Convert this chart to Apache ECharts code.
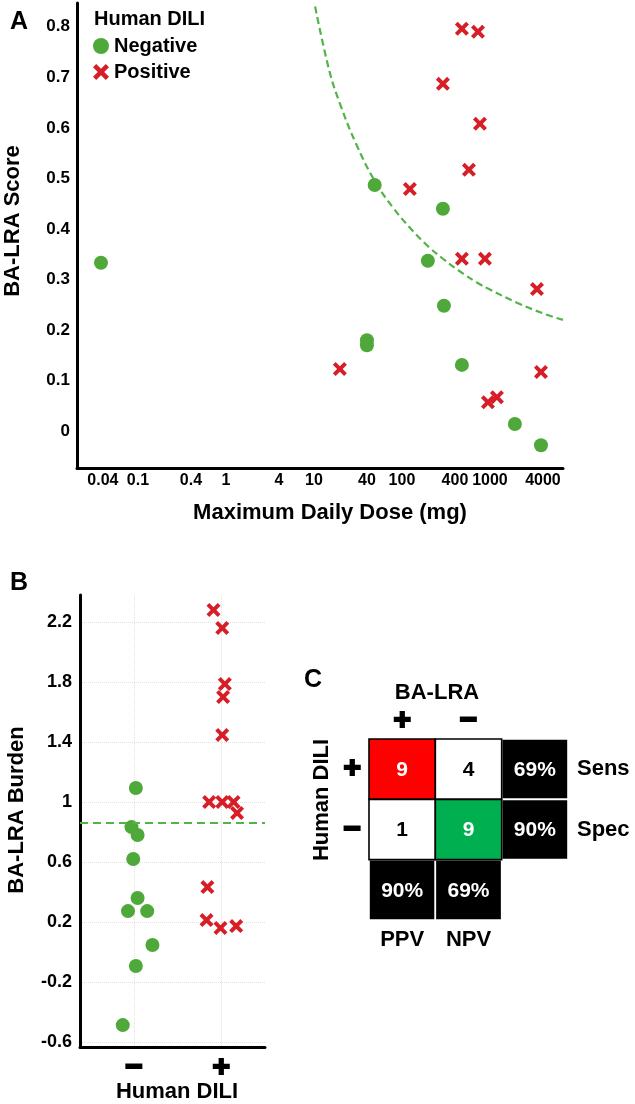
<!DOCTYPE html>
<html><head><meta charset="utf-8">
<script src="https://cdn.jsdelivr.net/npm/echarts@6/dist/echarts.min.js"></script>
<style>html,body{margin:0;padding:0;background:#fff}#c{width:635px;height:1104px}</style>
</head><body><div id="c"></div>
<script>
// ---------- Panel A data ----------
const aNegDose  = [0.038, 49, 292, 197, 300, 40, 40, 480, 1920, 3800];
const aNegScore = [0.333, 0.487, 0.44, 0.337, 0.248, 0.18, 0.17, 0.131, 0.014, -0.028];
const aPosDose  = [480, 731, 292, 770, 577, 123, 480, 877, 3420, 19.7, 3800, 949, 1200];
const aPosScore = [0.796, 0.79, 0.687, 0.608, 0.517, 0.479, 0.341, 0.341, 0.281, 0.123, 0.117, 0.057, 0.067];
const aCurveDose  = [10.3, 15, 20, 30, 49, 80, 133, 200, 292, 500, 711, 1000, 2030, 4000, 6760];
const aCurveScore = [0.84, 0.712, 0.645, 0.569, 0.495, 0.441, 0.396, 0.365, 0.341, 0.311, 0.294, 0.28, 0.254, 0.233, 0.22];
const aXTicks = [0.04, 0.1, 0.4, 1, 4, 10, 40, 100, 400, 1000, 4000];
const aYTicks = [0, 0.1, 0.2, 0.3, 0.4, 0.5, 0.6, 0.7, 0.8];
const aXTitle = 'Maximum Daily Dose (mg)';
const aYTitle = 'BA-LRA Score';

// ---------- Panel B data ----------
const bCategories = ['−', '+'];
const bNegPos   = [1.02, 0.97, 1.04, 0.99, 1.04, 0.93, 1.15, 1.21, 1.02, 0.87];
const bNegValue = [1.093, 0.833, 0.78, 0.62, 0.36, 0.273, 0.273, 0.047, -0.093, -0.487];
const bPosPos   = [1.91, 2.01, 2.04, 2.02, 2.01, 1.86, 2.01, 2.14, 2.18, 1.84, 1.83, 1.99, 2.17];
const bPosValue = [2.28, 2.16, 1.787, 1.7, 1.447, 1.0, 1.0, 1.0, 0.927, 0.433, 0.213, 0.16, 0.173];
const bThreshold = 0.86;
const bYTicks = [-0.6, -0.2, 0.2, 0.6, 1, 1.4, 1.8, 2.2];
const bXTitle = 'Human DILI';
const bYTitle = 'BA-LRA Burden';

// ---------- Panel C data ----------
const cColLabels = ['+', '−'];
const cRowLabels = ['+', '−'];
const cCounts = [[9, 4], [1, 9]];
const cRowStats = ['69%', '90%'];
const cRowStatNames = ['Sens', 'Spec'];
const cColStats = ['90%', '69%'];
const cColStatNames = ['PPV', 'NPV'];
const cColTitle = 'BA-LRA';
const cRowTitle = 'Human DILI';

const GREEN = '#4FA83A', RED = '#D71E26', DASH = '#52B447';
const FONT = '"Liberation Sans", Arial, sans-serif';
const XPATH = 'path://M2,0 L5,3 L8,0 L10,2 L7,5 L10,8 L8,10 L5,7 L2,10 L0,8 L3,5 L0,2 Z';

const zip = (a, b) => a.map((v, i) => [v, b[i]]);
const fmt = v => String(parseFloat(Number(v).toPrecision(4)));

// matrix cells (black ones first so the coloured ones' borders sit on top)
const cCells = [];
cRowStats.forEach((t, r) => cCells.push({v: [2, r], text: t, fill: '#000', color: '#fff', stroke: '#fff'}));
cColStats.forEach((t, c) => cCells.push({v: [c, 2], text: t, fill: '#000', color: '#fff', stroke: '#fff'}));
const cFill = [['#FF0000', '#FFFFFF'], ['#FFFFFF', '#00B050']];
const cText = [['#fff', '#000'], ['#000', '#fff']];
cCounts.forEach((row, r) => row.forEach((n, c) =>
  cCells.push({v: [c, r], text: String(n), fill: cFill[r][c], color: cText[r][c], stroke: '#000'})));

const boldTxt = (size, extra) => Object.assign({fontFamily: FONT, fontWeight: 'bold', fontSize: size, color: '#000'}, extra || {});
const signTxt = {fontFamily: FONT, fontWeight: 'bold', fontSize: 30, color: '#000', textBorderColor: '#000', textBorderWidth: 2};
const gText = (text, x, y, rot) => ({type: 'text', x: x, y: y, rotation: rot || 0,
  style: {text: text, font: 'bold 22px ' + FONT, fill: '#000', align: 'center', verticalAlign: 'middle'}});

const chart = echarts.init(document.getElementById('c'), null, {renderer: 'canvas'});
chart.setOption({
  animation: false,
  backgroundColor: '#fff',
  title: [
    {text: 'A', left: 5, top: 5, textStyle: boldTxt(25)},
    {text: 'B', left: 5, top: 566, textStyle: boldTxt(25)},
    {text: 'C', left: 299, top: 663, textStyle: boldTxt(25)},
    {text: 'Human DILI', left: 89, top: 4, textStyle: boldTxt(20)}
  ],
  legend: {
    orient: 'vertical', left: 88, top: 31, itemGap: 6, itemWidth: 16, itemHeight: 16,
    textStyle: boldTxt(20), selectedMode: false,
    data: [{name: 'Negative', icon: 'circle'}, {name: 'Positive', icon: XPATH}]
  },
  grid: [
    {left: 77, top: 3, width: 486, height: 465},
    {left: 80, top: 595, width: 185, height: 452},
    {left: 369, top: 739, width: 199, height: 181}
  ],
  xAxis: [
    {gridIndex: 0, type: 'log', logBase: 10, min: 0.0203, max: 6760,
     axisLine: {show: true, onZero: false, lineStyle: {color: '#000', width: 3}},
     axisTick: {show: false, customValues: aXTicks},
     axisLabel: {customValues: aXTicks, formatter: fmt, margin: 5, ...boldTxt(16)},
     splitLine: {show: false}, minorSplitLine: {show: false}},
    {gridIndex: 1, type: 'value', min: 0.38, max: 2.5,
     axisLine: {show: true, onZero: false, lineStyle: {color: '#000', width: 3}},
     axisTick: {show: false, customValues: [1, 2]},
     axisLabel: {customValues: [1, 2], formatter: v => bCategories[Math.round(v) - 1], margin: 6, ...signTxt},
     splitLine: {show: true, lineStyle: {color: '#e2e2e2', type: 'dotted', width: 1}}},
    {gridIndex: 2, type: 'category', position: 'top', data: cColLabels.concat(['']),
     axisLine: {show: false}, axisTick: {show: false}, splitLine: {show: false},
     axisLabel: {margin: 3, ...signTxt}},
    {gridIndex: 2, type: 'category', position: 'bottom', data: cColStatNames.concat(['']),
     axisLine: {show: false}, axisTick: {show: false}, splitLine: {show: false},
     axisLabel: {margin: 9, ...boldTxt(22)}}
  ],
  yAxis: [
    {gridIndex: 0, type: 'value', min: -0.073, max: 0.847,
     axisLine: {show: true, onZero: false, lineStyle: {color: '#000', width: 3}},
     axisTick: {show: false, customValues: aYTicks},
     axisLabel: {customValues: aYTicks, formatter: fmt, margin: 7, ...boldTxt(17)},
     splitLine: {show: false}},
    {gridIndex: 1, type: 'value', min: -0.633, max: 2.38,
     axisLine: {show: true, onZero: false, lineStyle: {color: '#000', width: 3}},
     axisTick: {show: false, customValues: bYTicks},
     axisLabel: {customValues: bYTicks, formatter: fmt, margin: 8, ...boldTxt(18)},
     splitLine: {show: true, lineStyle: {color: '#e2e2e2', type: 'dotted', width: 1}}},
    {gridIndex: 2, type: 'category', inverse: true, position: 'left', data: cRowLabels.concat(['']),
     axisLine: {show: false}, axisTick: {show: false}, splitLine: {show: false},
     axisLabel: {margin: 8, ...signTxt}},
    {gridIndex: 2, type: 'category', inverse: true, position: 'right', data: cRowStatNames.concat(['']),
     axisLine: {show: false}, axisTick: {show: false}, splitLine: {show: false},
     axisLabel: {margin: 9, ...boldTxt(22)}}
  ],
  graphic: [
    gText(aXTitle, 330, 513),
    gText(aYTitle, 13, 221, Math.PI / 2),
    gText(bXTitle, 177, 1092),
    gText(bYTitle, 17, 810, Math.PI / 2),
    gText(cColTitle, 437, 693),
    gText(cRowTitle, 322, 800, Math.PI / 2)
  ],
  series: [
    {type: 'line', xAxisIndex: 0, yAxisIndex: 0, data: zip(aCurveDose, aCurveScore), smooth: 0.4,
     showSymbol: false, silent: true, lineStyle: {color: DASH, width: 2.2, type: [7, 4]}, z: 1},
    {name: 'Negative', type: 'scatter', xAxisIndex: 0, yAxisIndex: 0, data: zip(aNegDose, aNegScore),
     symbol: 'circle', symbolSize: 14, itemStyle: {color: GREEN, opacity: 1}, z: 3},
    {name: 'Positive', type: 'scatter', xAxisIndex: 0, yAxisIndex: 0, data: zip(aPosDose, aPosScore),
     symbol: XPATH, symbolSize: 14, itemStyle: {color: RED, opacity: 1}, z: 3},
    {name: 'Negative', type: 'scatter', xAxisIndex: 1, yAxisIndex: 1, data: zip(bNegPos, bNegValue),
     symbol: 'circle', symbolSize: 14, itemStyle: {color: GREEN, opacity: 1}, z: 3,
     markLine: {silent: true, symbol: 'none', label: {show: false},
       lineStyle: {color: DASH, width: 2.2, type: [8, 5]}, data: [{yAxis: bThreshold}]}},
    {name: 'Positive', type: 'scatter', xAxisIndex: 1, yAxisIndex: 1, data: zip(bPosPos, bPosValue),
     symbol: XPATH, symbolSize: 14, itemStyle: {color: RED, opacity: 1}, z: 3},
    {type: 'custom', xAxisIndex: 2, yAxisIndex: 2, silent: true,
     data: cCells.map(d => d.v),
     renderItem: (params, api) => {
       const d = cCells[params.dataIndex];
       const p = api.coord([api.value(0), api.value(1)]);
       const s = api.size([1, 1]);
       return {type: 'group', children: [
         {type: 'rect', shape: {x: p[0] - s[0] / 2, y: p[1] - s[1] / 2, width: s[0], height: s[1]},
          style: {fill: d.fill, stroke: d.stroke, lineWidth: 1.6}},
         {type: 'text', style: {text: d.text, x: p[0], y: p[1] + 1, align: 'center', verticalAlign: 'middle',
          font: 'bold 21px ' + FONT, fill: d.color}}
       ]};
     }}
  ]
});
</script></body></html>
